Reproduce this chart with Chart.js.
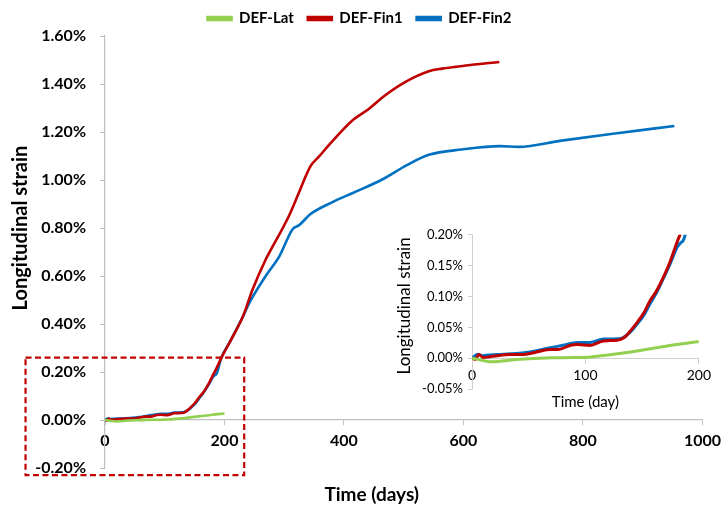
<!DOCTYPE html>
<html><head><meta charset="utf-8">
<script src="https://cdn.jsdelivr.net/npm/chart.js@4.4.1/dist/chart.umd.min.js"></script>
<style>
html,body{margin:0;padding:0;background:#fff;}
#wrap{position:relative;width:727px;height:508px;overflow:hidden;}
#main{position:absolute;left:0;top:0;}
#inset{position:absolute;left:390px;top:222px;}
</style></head><body>
<div id="wrap">
<canvas id="main" style="width:727px;height:508px"></canvas>
<canvas id="inset" style="width:325px;height:195px"></canvas>
</div>
<script>
const seriesNames = ['DEF-Lat', 'DEF-Fin1', 'DEF-Fin2'];
const seriesColors = ['#92D050', '#C00000', '#0070C0'];

const latDays   = [0, 5, 10, 18, 25, 35, 50, 70, 90, 105, 120, 140, 160, 180, 200];
const latStrain = [0, -0.002, -0.004, -0.006, -0.005, -0.003, -0.001, 0.0005, 0.001, 0.002, 0.005, 0.010, 0.016, 0.022, 0.027];

const fin1Days   = [0, 3, 6, 10, 15, 22, 34, 46, 57, 69, 76, 87, 93, 104, 116, 128, 134, 140, 146, 152, 157, 163, 169, 175, 181, 186, 194, 210, 231, 247, 269, 275, 308, 325, 344, 358, 375, 414, 442, 469, 503, 542, 564, 608, 660];
const fin1Strain = [0, -0.002, 0.006, 0.001, 0.002, 0.004, 0.006, 0.006, 0.010, 0.014, 0.014, 0.021, 0.022, 0.0205, 0.028, 0.029, 0.033, 0.045, 0.059, 0.075, 0.093, 0.110, 0.132, 0.158, 0.189, 0.212, 0.255, 0.330, 0.432, 0.544, 0.669, 0.697, 0.851, 0.950, 1.058, 1.097, 1.146, 1.248, 1.297, 1.353, 1.409, 1.453, 1.464, 1.478, 1.492];

const fin2Days   = [0, 5, 9, 15, 22, 34, 46, 57, 69, 80, 93, 104, 116, 131, 140, 146, 152, 157, 163, 169, 175, 181, 184, 186, 188, 194, 210, 231, 242, 269, 292, 314, 325, 344, 380, 414, 464, 506, 542, 597, 661, 692, 764, 847, 953];
const fin2Strain = [0, 0.0065, 0.004, 0.005, 0.006, 0.007, 0.0087, 0.012, 0.017, 0.021, 0.0255, 0.0255, 0.031, 0.032, 0.043, 0.056, 0.071, 0.088, 0.107, 0.130, 0.154, 0.180, 0.187, 0.190, 0.200, 0.255, 0.330, 0.432, 0.490, 0.600, 0.683, 0.795, 0.812, 0.858, 0.907, 0.945, 1.002, 1.063, 1.105, 1.127, 1.141, 1.138, 1.164, 1.192, 1.225];

const mainXTicks = [0, 200, 400, 600, 800, 1000];
const mainYTicks = [-0.2, 0, 0.2, 0.4, 0.6, 0.8, 1.0, 1.2, 1.4, 1.6];
const insetXTicks = [0, 100, 200];
const insetYTicks = [-0.05, 0, 0.05, 0.10, 0.15, 0.20];

const mainXTitle = 'Time (days)';
const mainYTitle = 'Longitudinal strain';
const insetXTitle = 'Time (day)';
const insetYTitle = 'Longitudinal strain';

const zoomBoxDays = [-133, 233];
const zoomBoxStrain = [-0.23, 0.26];

const allDays = [latDays, fin1Days, fin2Days];
const allStrain = [latStrain, fin1Strain, fin2Strain];

function makeDatasets(width) {
  return seriesNames.map((name, i) => ({
    label: name,
    data: allDays[i].map((d, j) => ({x: d, y: allStrain[i][j]})),
    borderColor: seriesColors[i],
    backgroundColor: seriesColors[i],
    borderWidth: width,
    pointRadius: 0,
    pointHoverRadius: 0,
    cubicInterpolationMode: 'monotone',
    fill: false
  }));
}

const axisGray = '#BFBFBF';

const zoomBoxPlugin = {
  id: 'zoomBox',
  afterDraw(chart) {
    const xs = chart.scales.x, ys = chart.scales.y, ctx = chart.ctx;
    const l = xs.getPixelForValue(zoomBoxDays[0]), r = xs.getPixelForValue(zoomBoxDays[1]);
    const t = ys.getPixelForValue(zoomBoxStrain[1]), b = ys.getPixelForValue(zoomBoxStrain[0]);
    ctx.save();
    ctx.strokeStyle = '#C00000';
    ctx.lineWidth = 2.2;
    ctx.setLineDash([6, 3.5]);
    ctx.strokeRect(l, t, r - l, b - t);
    ctx.restore();
  }
};

const axisTitlePlugin = {
  id: 'axisTitles',
  afterDraw(chart, args, o) {
    const ca = chart.chartArea, ctx = chart.ctx;
    ctx.save();
    ctx.fillStyle = '#000';
    ctx.textAlign = 'center';
    ctx.textBaseline = 'middle';
    ctx.font = o.xFont;
    ctx.fillText(o.xText, (ca.left + ca.right) / 2 + o.xDx, ca.bottom + o.xDy);
    ctx.translate(o.yX, (ca.top + ca.bottom) / 2 + o.yDy);
    ctx.rotate(-Math.PI / 2);
    ctx.font = o.yFont;
    ctx.fillText(o.yText, 0, 0);
    ctx.restore();
  }
};

new Chart(document.getElementById('main'), {
  type: 'line',
  data: { datasets: makeDatasets(2.6) },
  plugins: [zoomBoxPlugin, axisTitlePlugin],
  options: {
    responsive: false,
    animation: false,
    events: [],
    layout: { padding: { left: 4, right: 12, top: -3, bottom: 40 } },
    plugins: {
      tooltip: { enabled: false },
      axisTitles: {
        xText: mainXTitle, xFont: 'bold 19px Lato, "Open Sans", sans-serif', xDx: -32, xDy: 27,
        yText: mainYTitle, yFont: 'bold 20px Lato, "Open Sans", sans-serif', yX: 21, yDy: -24
      },
      legend: {
        position: 'top',
        labels: {
          boxWidth: 24, boxHeight: 3, padding: 14,
          color: '#000',
          font: { family: 'Lato, "Open Sans", sans-serif', size: 15, weight: 'bold' }
        }
      }
    },
    scales: {
      x: {
        type: 'linear',
        position: { y: 0 },
        min: 0, max: 1000,
        afterBuildTicks: s => { s.ticks = mainXTicks.map(v => ({value: v})); },
        ticks: { color: '#000', padding: 6, maxRotation: 0,
          callback: v => String(v),
          font: { family: 'Lato, "Open Sans", sans-serif', size: 16, weight: 'bold' } },
        grid: { drawOnChartArea: false, drawTicks: true, tickLength: 5, color: axisGray },
        border: { color: axisGray, width: 1.2 }
      },
      y: {
        type: 'linear',
        min: -0.2, max: 1.6,
        afterBuildTicks: s => { s.ticks = mainYTicks.map(v => ({value: v})); },
        afterFit: s => { s.width = 101; },
        ticks: { color: '#000', padding: 14,
          callback: v => v.toFixed(2) + '%',
          font: { family: 'Lato, "Open Sans", sans-serif', size: 16, weight: 'bold' } },
        grid: { drawOnChartArea: false, drawTicks: true, tickLength: 5, color: axisGray },
        border: { color: axisGray, width: 1.2 }
      }
    }
  }
});

new Chart(document.getElementById('inset'), {
  type: 'line',
  data: { datasets: makeDatasets(3) },
  plugins: [axisTitlePlugin],
  options: {
    responsive: false,
    animation: false,
    events: [],
    layout: { padding: { left: 4, right: 12, top: 2, bottom: 28 } },
    plugins: {
      tooltip: { enabled: false },
      legend: { display: false },
      axisTitles: {
        xText: insetXTitle, xFont: '15px Lato, "Open Sans", sans-serif', xDx: 0, xDy: 13,
        yText: insetYTitle, yFont: '17px Lato, "Open Sans", sans-serif', yX: 15, yDy: -6
      }
    },
    scales: {
      x: {
        type: 'linear',
        position: { y: 0 },
        min: 0, max: 200,
        afterBuildTicks: s => { s.ticks = insetXTicks.map(v => ({value: v})); },
        ticks: { color: '#000', padding: 4, maxRotation: 0,
          callback: v => String(v),
          font: { family: 'Lato, "Open Sans", sans-serif', size: 14 } },
        grid: { drawOnChartArea: false, drawTicks: true, tickLength: 5, color: '#D0D0D0' },
        border: { color: '#D0D0D0', width: 1 }
      },
      y: {
        type: 'linear',
        min: -0.05, max: 0.2,
        afterBuildTicks: s => { s.ticks = insetYTicks.map(v => ({value: v})); },
        afterFit: s => { s.width = 78; },
        ticks: { color: '#000', padding: 5,
          callback: v => v.toFixed(2) + '%',
          font: { family: 'Lato, "Open Sans", sans-serif', size: 13 } },
        grid: { drawOnChartArea: false, drawTicks: true, tickLength: 4, color: '#D0D0D0' },
        border: { color: '#D0D0D0', width: 1 }
      }
    }
  }
});
</script>
</body></html>
